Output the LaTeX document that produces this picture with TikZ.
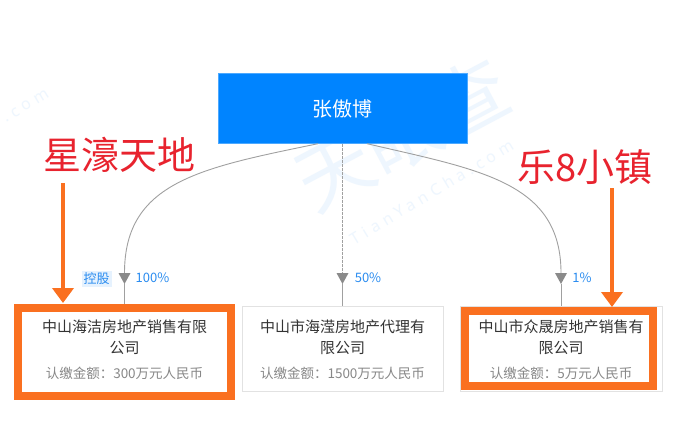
\documentclass[tikz,border=0pt]{standalone}
\usepackage{fontspec}
\setmainfont{Noto Sans CJK SC}
\newfontfamily\wmfont[LetterSpace=30]{Noto Sans}
\usetikzlibrary{arrows.meta}
\definecolor{tblue}{HTML}{0084FF}
\definecolor{pblue}{HTML}{2A8CF0}
\definecolor{holdbg}{HTML}{E6F2FE}
\definecolor{lgray}{HTML}{A0A0A0}
\definecolor{agray}{HTML}{8A8A8A}
\definecolor{bgray}{HTML}{E2E2E2}
\definecolor{ntext}{HTML}{333333}
\definecolor{stext}{HTML}{888888}
\definecolor{orng}{HTML}{FA7020}
\definecolor{rtext}{HTML}{E8232E}
\definecolor{wm}{HTML}{EEF6FE}
\begin{document}
\begin{tikzpicture}[x=1pt,y=-1pt,
  person/.style={draw=tblue!70!white, fill=tblue, text=white, minimum width=249pt, minimum height=70pt, font=\fontsize{20}{20}\selectfont},
  compbox/.style={draw=bgray, fill=white, line width=0.8pt},
  nm/.style={align=center, text=ntext, font=\fontsize{15}{21}\selectfont, inner sep=0pt},
  sub/.style={text=stext, font=\fontsize{13.5}{14}\selectfont, inner sep=0pt},
  pct/.style={text=pblue, font=\fontsize{13}{13}\selectfont, inner sep=0pt},
  hold/.style={text=pblue, fill=holdbg, font=\fontsize{13}{13}\selectfont, inner sep=2pt},
  conn/.style={draw=lgray, line width=0.9pt},
  dconn/.style={draw=lgray, line width=0.9pt, dash pattern=on 3pt off 1pt},
  tri/.style={fill=agray},
  oframe/.style={draw=orng, line width=8pt},
  oarrow/.style={draw=orng, line width=4.5pt, -{Triangle[width=21pt,length=15pt]}},
  title/.style={text=rtext, font=\fontsize{38}{38}\selectfont, inner sep=0pt},
  wmark/.style={text=wm, inner sep=0pt}
]
\useasboundingbox (0,0) rectangle (700,420);
\fill[white] (0,0) rectangle (700,420);
% watermark
\node[wmark, rotate=28, font=\fontsize{76}{76}\selectfont] (wm1) at (402,134) {天眼查};
\node[wmark, rotate=31, font=\wmfont\bfseries\fontsize{16}{16}\selectfont] (wm2) at (432,192) {TianYanCha.com};
\node[wmark, rotate=31, font=\wmfont\bfseries\fontsize{16}{16}\selectfont] (wm3) at (26,106) {.com};

% person
\node[person] (p) at (342.5,108.5) {张傲博};

% companies
\node[compbox, minimum width=209pt, minimum height=88pt] (c1) at (124.5,349) {};
\node[compbox, minimum width=201pt, minimum height=85pt] (c2) at (342.5,348.5) {};
\node[compbox, minimum width=202pt, minimum height=85pt] (c3) at (561,348.5) {};

\node[nm] (c1n) at (124.5,337.5) {中山海洁房地产销售有限\\公司};
\node[sub] (c1s) at (124.5,373) {认缴金额：300万元人民币};
\node[nm] (c2n) at (342.5,337.5) {中山市海滢房地产代理有\\限公司};
\node[sub] (c2s) at (342.5,373) {认缴金额：1500万元人民币};
\node[nm] (c3n) at (561,337.5) {中山市众晟房地产销售有\\限公司};
\node[sub] (c3s) at (561,373) {认缴金额：5万元人民币};

% connectors
\coordinate (k1) at (124.5,273);
\coordinate (k2) at (342.5,273);
\coordinate (k3) at (561,273);
\draw[conn] ([xshift=-24.5pt]p.south) .. controls (200,168) and (124.5,182) .. (k1);
\draw[conn] ([yshift=-11pt]k1) -- (c1.north);
\draw[dconn] (p.south) -- (k2);
\draw[conn] ([yshift=-11pt]k2) -- (c2.north);
\draw[conn] ([xshift=24.5pt]p.south) .. controls (480,170) and (561,182) .. (k3);
\draw[conn] ([yshift=-11pt]k3) -- (c3.north);
\foreach \k in {k1,k2,k3}{
  \fill[tri] ([xshift=-6pt]\k) -- ([xshift=6pt]\k) -- ([yshift=-11pt]\k) -- cycle;
}

% labels
\node[hold] (h1) at (96.5,279) {控股};
\node[pct] (l1) at (152.5,278) {100\%};
\node[pct] (l2) at (368,278) {50\%};
\node[pct] (l3) at (582,278) {1\%};

% orange frames
\draw[oframe] (17.5,307.5) rectangle (231,396);
\draw[oframe] (464.5,311) rectangle (652.5,386);

% annotations
\node[title] (t1) at (119,155) {星濠天地};
\node[title] (t2) at (585,167) {乐8小镇};
\coordinate (a1s) at (63,183);
\coordinate (a1e) at (63,303);
\coordinate (a2s) at (612,188);
\coordinate (a2e) at (612,307);
\draw[oarrow] (a1s) -- (a1e);
\draw[oarrow] (a2s) -- (a2e);
\end{tikzpicture}
\end{document}
